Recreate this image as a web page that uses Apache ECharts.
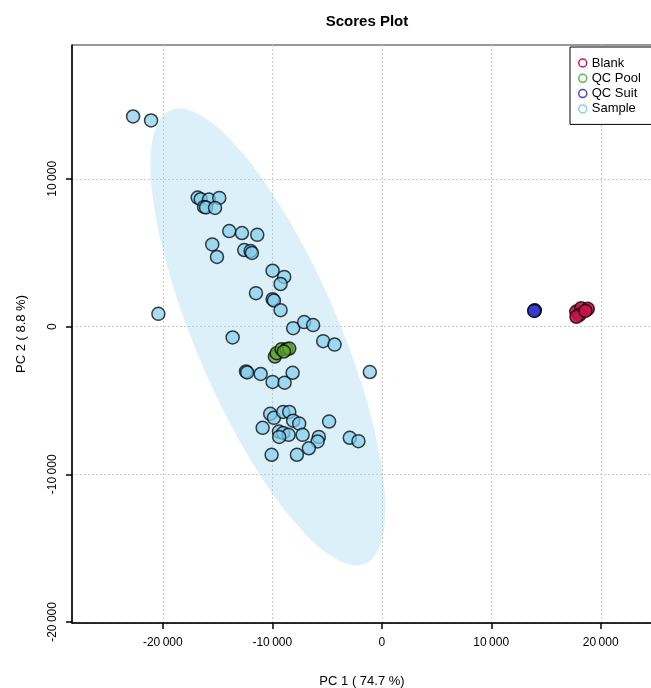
<!DOCTYPE html>
<html><head><meta charset="utf-8">
<script src="https://cdn.jsdelivr.net/npm/echarts@6/dist/echarts.min.js"></script>
<style>html,body{margin:0;padding:0;background:#fff}#c{width:651px;height:688px}</style>
</head><body><div id="c"></div>
<script>
const groups = ['Blank', 'QC Pool', 'QC Suit', 'Sample'];

const blankPts = [
  [17760, 1010], [18210, 1240], [18820, 1200], [18060, 790], [17780, 660], [18600, 1060]
];
const qcPoolPts = [
  [-9760, -2030], [-9600, -1800], [-9150, -1530], [-8690, -1530], [-8450, -1490], [-8940, -1690]
];
const qcSuitPts = [
  [13950, 1080], [13980, 1100], [13920, 1060]
];
const samplePts = [
  [-22710, 14220], [-21070, 13950], [-20400, 860],
  [-16810, 8730], [-16540, 8620], [-15780, 8600], [-14840, 8710],
  [-16230, 8100], [-16050, 8060], [-15230, 8030],
  [-13930, 6460], [-12770, 6330], [-11370, 6210], [-15480, 5560], [-15050, 4710],
  [-12560, 5180], [-11980, 5110], [-11860, 4980],
  [-9970, 3780], [-8910, 3360], [-9240, 2880], [-11490, 2260], [-9970, 1850], [-9850, 1760],
  [-9240, 1110], [-8090, -110], [-7090, 300], [-6270, 100], [-13620, -740],
  [-5350, -990], [-4310, -1220], [-1090, -3080],
  [-12400, -3040], [-12290, -3110], [-11060, -3210], [-9970, -3750], [-8870, -3800], [-8140, -3130],
  [-10190, -5910], [-9850, -6180], [-9000, -5780], [-8450, -5780], [-8090, -6370], [-7540, -6570],
  [-10880, -6860], [-9390, -7110], [-9000, -7200], [-8510, -7330], [-9370, -7470], [-7230, -7330],
  [-4810, -6430], [-5750, -7470], [-5860, -7780], [-6660, -8240],
  [-2920, -7530], [-2130, -7760], [-10060, -8680], [-7750, -8680]
];

const xTicks = [-20000, -10000, 0, 10000, 20000];
const yTicks = [-20000, -10000, 0, 10000];
const xRange = [-28290, 24680];
const yRange = [-20070, 19060];

// 95% confidence ellipse of the Sample group (data units)
const ellipseCenter = [-10400, -700];
const ellipseShape = [[1.15e8, -1.25e8], [-1.25e8, 2.39e8]];

const FONT = "'Liberation Sans', Arial, sans-serif";
const legendColors = ['#C8194B', '#5CB84A', '#4545CC', '#87CEEB'];
const fillColors = ['rgba(200,20,70,0.9)', 'rgba(95,165,50,0.75)', 'rgba(50,60,205,0.9)', 'rgba(130,205,238,0.7)'];

function fmt(v) {
  const s = Math.abs(v).toString().replace(/\B(?=(\d{3})+(?!\d))/g, '\u2009');
  return (v < 0 ? '-' : '') + s;
}

// build ellipse outline from shape matrix (Cholesky)
const L11 = Math.sqrt(ellipseShape[0][0]);
const L21 = ellipseShape[1][0] / L11;
const L22 = Math.sqrt(ellipseShape[1][1] - L21 * L21);
const ellipsePts = [];
for (let i = 0; i < 180; i++) {
  const t = i / 180 * 2 * Math.PI;
  ellipsePts.push([ellipseCenter[0] + L11 * Math.cos(t), ellipseCenter[1] + L21 * Math.cos(t) + L22 * Math.sin(t)]);
}

const ptSeries = [blankPts, qcPoolPts, qcSuitPts, samplePts];
const order = [3, 1, 2, 0];
const scatterSeries = order.map(i => ({
  name: groups[i], type: 'scatter', data: ptSeries[i], symbol: 'circle', symbolSize: 13,
  itemStyle: { color: fillColors[i], borderColor: 'rgba(0,0,0,0.75)', borderWidth: 1.5, opacity: 1 },
  emphasis: { disabled: true }, z: 3
}));

const chart = echarts.init(document.getElementById('c'), null, { renderer: 'canvas' });
chart.setOption({
  animation: false,
  backgroundColor: '#fff',
  title: {
    text: 'Scores Plot', left: 362, top: 9, textAlign: 'center',
    textStyle: { fontSize: 15, fontWeight: 'bold', color: '#000', fontFamily: FONT }
  },
  grid: { left: 72, top: 45, width: 580, height: 578, show: true, borderColor: '#333', borderWidth: 1, containLabel: false, outerBoundsMode: 'none' },
  legend: {
    orient: 'vertical', left: 570, top: 47, padding: [9.5, 16, 9, 8], itemGap: 2.3,
    itemWidth: 8, itemHeight: 8, backgroundColor: '#fff', borderColor: '#000', borderWidth: 1,
    textStyle: { fontSize: 13, color: '#000', fontFamily: FONT, lineHeight: 13 },
    data: groups.map((g, i) => ({ name: g, icon: 'circle', itemStyle: { color: 'rgba(0,0,0,0)', borderColor: legendColors[i], borderWidth: 1.5 } }))
  },
  xAxis: {
    type: 'value', min: xRange[0], max: xRange[1],
    axisLine: { show: true, onZero: false, lineStyle: { color: '#000', width: 1.5 } },
    axisTick: { show: true, customValues: xTicks, length: 6, lineStyle: { color: '#000', width: 1.5 } },
    axisLabel: { customValues: xTicks, formatter: fmt, margin: 14, fontSize: 12, color: '#000', fontFamily: FONT },
    splitLine: { show: true, lineStyle: { color: '#cccccc', type: [2, 2], width: 1 } },
    name: 'PC 1 ( 74.7 %)', nameLocation: 'middle', nameGap: 52,
    nameTextStyle: { fontSize: 13, color: '#000', fontFamily: FONT }
  },
  yAxis: {
    type: 'value', min: yRange[0], max: yRange[1],
    axisLine: { show: true, onZero: false, lineStyle: { color: '#000', width: 1.5 } },
    axisTick: { show: true, customValues: yTicks, length: 6, lineStyle: { color: '#000', width: 1.5 } },
    axisLabel: { customValues: yTicks, formatter: fmt, margin: 13, rotate: 90, align: 'center', verticalAlign: 'bottom', fontSize: 12, color: '#000', fontFamily: FONT },
    splitLine: { show: true, lineStyle: { color: '#cccccc', type: [2, 2], width: 1 } },
    name: 'PC 2 ( 8.8 %)', nameLocation: 'middle', nameGap: 44, nameRotate: 90,
    nameTextStyle: { fontSize: 13, color: '#000', fontFamily: FONT }
  },
  series: [{
    type: 'custom', silent: true, z: 1, data: [0],
    renderItem: function (params, api) {
      return {
        type: 'polygon',
        shape: { points: ellipsePts.map(p => api.coord(p)) },
        style: { fill: 'rgba(135,206,235,0.3)', stroke: null }
      };
    }
  }].concat(scatterSeries)
});
</script>
</body></html>
